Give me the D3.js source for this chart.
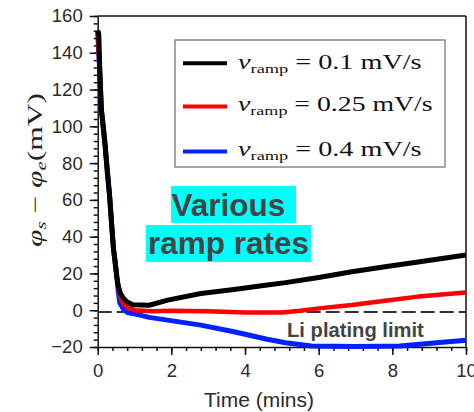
<!DOCTYPE html>
<html><head><meta charset="utf-8">
<script src="https://cdn.jsdelivr.net/npm/d3@7"></script>
<style>
html,body{margin:0;padding:0;background:#fff;}
svg{display:block;}
</style></head>
<body>
<svg id="chart" width="474" height="412"></svg>
<script>
// ---- data ----
const xTickValues = [0, 2, 4, 6, 8, 10];
const yTickValues = [-20, 0, 20, 40, 60, 80, 100, 120, 140, 160];
const xMinorTicks = d3.range(0, 10.001, 0.4);
const yMinorTicks = d3.range(-20, 160.001, 4);

const tBlack = [0, 0.03, 0.06, 0.1, 0.15, 0.2, 0.26, 0.32, 0.38, 0.43, 0.47, 0.52, 0.56, 0.62, 0.7, 0.8, 0.95, 1.4, 1.9, 2.8, 3.7, 4.6, 5.1, 6.0, 6.9, 7.8, 8.7, 10];
const vBlack = [152, 150, 128, 109, 100, 90, 75, 63, 46, 33, 27, 18, 13, 9, 6.5, 4.5, 3, 2.7, 5.5, 9.1, 11.3, 13.7, 15, 17.8, 20.9, 23.6, 26.2, 30];

const tRed = [0, 0.06, 0.1, 0.2, 0.32, 0.43, 0.52, 0.56, 0.62, 0.7, 0.8, 1.0, 1.5, 2, 3, 4, 5, 5.5, 6, 6.9, 7.8, 8.7, 10];
const vRed = [152, 128, 109, 90, 63, 33, 18, 13, 7, 3.5, 1.5, 0, -0.5, -0.3, -0.5, -1.3, -1.2, -0.3, 1, 2.8, 5.2, 7.4, 9.7];

const tBlue = [0, 0.06, 0.1, 0.2, 0.32, 0.43, 0.52, 0.56, 0.6, 0.7, 0.8, 1.0, 1.4, 1.9, 2.8, 3.7, 4.6, 5.1, 5.8, 7, 8.2, 9.2, 10];
const vBlue = [152, 128, 109, 90, 63, 33, 18, 10, 4, 0.5, -1.2, -2, -3.9, -5.4, -8.1, -11.7, -15.8, -17.7, -19.5, -19.7, -19.5, -17.7, -16.3];

const limitValue = -1;
const seriesNames = ["0.1", "0.25", "0.4"];
const seriesColors = ["#000000", "#ff0000", "#0022ff"];

// ---- drawing ----
const svg = d3.select("#chart");
const x = d3.scaleLinear().domain([0, 10]).range([97.7, 466]);
const y = d3.scaleLinear().domain([-20, 160]).range([347, 16]);

const tickFont = "'Liberation Sans', Arial, sans-serif";

// frame (top + right)
svg.append("line").attr("x1", x(0)).attr("x2", x(10)).attr("y1", y(160)).attr("y2", y(160))
  .attr("stroke", "#111").attr("stroke-width", 1.5);
svg.append("line").attr("x1", x(10)).attr("x2", x(10)).attr("y1", y(160)).attr("y2", y(-20))
  .attr("stroke", "#111").attr("stroke-width", 1.5);

// minor ticks
const gxm = svg.append("g").attr("transform", `translate(0,${y(-20)})`)
  .call(d3.axisBottom(x).tickValues(xMinorTicks).tickSize(4).tickFormat(""));
const gym = svg.append("g").attr("transform", `translate(${x(0)},0)`)
  .call(d3.axisLeft(y).tickValues(yMinorTicks).tickSize(4).tickFormat(""));
[gxm, gym].forEach(g => { g.select(".domain").remove(); g.selectAll("line").attr("stroke", "#111").attr("stroke-width", 1.5); });

// major axes
const gx = svg.append("g").attr("transform", `translate(0,${y(-20)})`)
  .call(d3.axisBottom(x).tickValues(xTickValues).tickSize(8).tickPadding(9).tickSizeOuter(0).tickFormat(d3.format("d")));
const gy = svg.append("g").attr("transform", `translate(${x(0)},0)`)
  .call(d3.axisLeft(y).tickValues(yTickValues).tickSize(8).tickPadding(7).tickSizeOuter(0).tickFormat(d3.format("d")));
[gx, gy].forEach(g => {
  g.select(".domain").attr("stroke", "#111").attr("stroke-width", 1.5);
  g.selectAll("line").attr("stroke", "#111").attr("stroke-width", 1.5);
  g.selectAll("text").attr("font-family", tickFont).attr("font-size", 18.5).attr("fill", "#2b2b2b");
});

// limit line
svg.append("line").attr("x1", x(0)).attr("x2", x(10)).attr("y1", y(limitValue)).attr("y2", y(limitValue))
  .attr("stroke", "#333").attr("stroke-width", 2).attr("stroke-dasharray", "14,5");

// series
const line = d3.line().x(d => x(d[0])).y(d => y(d[1]));
const series = [
  {t: tBlue, v: vBlue, c: seriesColors[2], w: 5},
  {t: tRed, v: vRed, c: seriesColors[1], w: 4.5},
  {t: tBlack, v: vBlack, c: seriesColors[0], w: 5}
];
series.forEach(s => {
  svg.append("path").datum(d3.zip(s.t, s.v)).attr("d", line)
    .attr("fill", "none").attr("stroke", s.c).attr("stroke-width", s.w)
    .attr("stroke-linejoin", "round");
});

// annotation
const ann = [
  {text: "Various", box: [171, 186, 125, 37], tx: 171.5, ty: 216},
  {text: "ramp rates", box: [146, 225, 165, 37], tx: 148, ty: 254}
];
ann.forEach(a => {
  svg.append("rect").attr("x", a.box[0]).attr("y", a.box[1]).attr("width", a.box[2]).attr("height", a.box[3]).attr("fill", "#00ffff");
  svg.append("text").attr("x", a.tx).attr("y", a.ty).text(a.text)
    .attr("font-family", tickFont).attr("font-weight", "bold").attr("font-size", 31.5).attr("fill", "#444");
});

svg.append("text").attr("x", 287).attr("y", 336.5).text("Li plating limit")
  .attr("font-family", tickFont).attr("font-weight", "bold").attr("font-size", 20.2).attr("fill", "#444");

// axis title
svg.append("text").attr("x", 259).attr("y", 406.5).attr("text-anchor", "middle").text("Time (mins)")
  .attr("font-family", tickFont).attr("font-size", 21).attr("fill", "#2b2b2b");

// y label
const serif = "'Liberation Serif', 'DejaVu Serif', serif";
function fitText(sel, target) {
  const w = sel.node().getBBox().width;
  return target / w;
}
const yl = svg.append("text").attr("font-family", serif).attr("font-size", 21).attr("fill", "#222")
  .attr("text-anchor", "middle");
yl.append("tspan").attr("font-style", "italic").text("φ");
yl.append("tspan").attr("font-style", "italic").attr("font-size", 14).attr("dy", 4).text("s");
yl.append("tspan").attr("dy", -4).text(" − ");
yl.append("tspan").attr("font-style", "italic").text("φ");
yl.append("tspan").attr("font-style", "italic").attr("font-size", 14).attr("dy", 4).text("e");
yl.append("tspan").attr("dy", -4).text("(mV)");
const ky = fitText(yl, 154);
yl.attr("transform", `translate(42,170) rotate(-90) scale(${ky},1)`);

// legend
svg.append("rect").attr("x", 175).attr("y", 40).attr("width", 270).attr("height", 127)
  .attr("fill", "#fff").attr("stroke", "#888").attr("stroke-width", 1.5);
const legRows = [
  {name: seriesNames[0], c: seriesColors[0], ly: 63.3, by: 68.5, w: 184},
  {name: seriesNames[1], c: seriesColors[1], ly: 106.5, by: 111, w: 195},
  {name: seriesNames[2], c: seriesColors[2], ly: 151.5, by: 155.5, w: 184}
];
legRows.forEach(r => {
  svg.append("line").attr("x1", 183).attr("x2", 227).attr("y1", r.ly).attr("y2", r.ly)
    .attr("stroke", r.c).attr("stroke-width", 4);
  const t = svg.append("text").attr("font-family", serif).attr("font-size", 20).attr("fill", "#111");
  t.append("tspan").attr("font-style", "italic").text("v");
  t.append("tspan").attr("font-size", 13).attr("dy", 4).text("ramp");
  t.append("tspan").attr("dy", -4).text(" = " + r.name + " mV/s");
  const k = fitText(t, r.w);
  t.attr("transform", `translate(238,${r.by}) scale(${k},1)`);
});
</script>
</body></html>
